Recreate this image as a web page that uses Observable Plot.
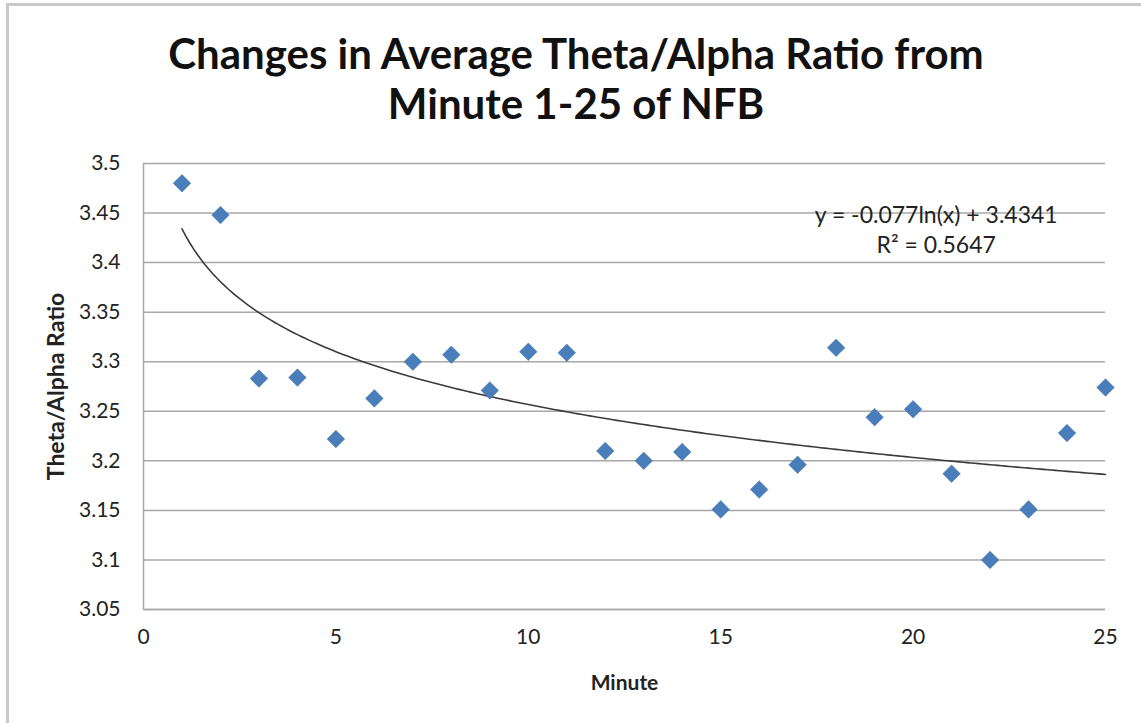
<!DOCTYPE html>
<html><head><meta charset="utf-8">
<script src="https://cdn.jsdelivr.net/npm/d3@7"></script>
<script src="https://cdn.jsdelivr.net/npm/@observablehq/plot@0.6"></script>
<style>
body{margin:0;background:#fff;}
#wrap{position:relative;width:1141px;height:723px;overflow:hidden;font-family:Lato,"Open Sans",sans-serif;background:#fff;}
#frame{position:absolute;left:6px;top:3px;width:1200px;height:800px;border-left:3px solid #c9c9c9;border-top:3px solid #c9c9c9;pointer-events:none;}
#title{position:absolute;left:0;top:28px;width:1152px;text-align:center;font-size:42px;font-weight:bold;line-height:50px;color:#111;}
#chart{position:absolute;left:0;top:140px;}
</style></head>
<body>
<div id="wrap">
  <div id="frame"></div>
  <div id="title">Changes in Average Theta/Alpha Ratio from<br>Minute 1-25 of NFB</div>
  <div id="chart"></div>
</div>
<script>
// Data
const minutes = [1,2,3,4,5,6,7,8,9,10,11,12,13,14,15,16,17,18,19,20,21,22,23,24,25];
const ratios  = [3.480,3.448,3.283,3.284,3.222,3.263,3.300,3.307,3.271,3.310,3.309,3.210,3.200,3.209,3.151,3.171,3.196,3.314,3.244,3.252,3.187,3.100,3.151,3.228,3.274];
const xTicks = [0,5,10,15,20,25];
const yTicks = [3.05,3.1,3.15,3.2,3.25,3.3,3.35,3.4,3.45,3.5];
const yTickLabels = ["3.05","3.1","3.15","3.2","3.25","3.3","3.35","3.4","3.45","3.5"];
// Trendline as printed on the chart: y = -0.077ln(x) + 3.4341, R² = 0.5647
const trendSlope = -0.077;
const trendIntercept = 3.4341;
const equationLines = ["y = -0.077ln(x) + 3.4341", "R² = 0.5647"];
const equationPos = {x: 20.6, y: 3.4345};

const points = minutes.map((m, i) => ({minute: m, ratio: ratios[i]}));
const trend = d3.range(1, 25.001, 0.1).map(x => ({minute: x, ratio: trendIntercept + trendSlope * Math.log(x)}));

const chart = Plot.plot({
  width: 1141,
  height: 583,
  marginLeft: 143,
  marginRight: 36,
  marginTop: 23,
  marginBottom: 114,
  style: {fontFamily: "Lato, 'Open Sans', sans-serif", background: "transparent", color: "#222"},
  x: {domain: [0, 25], ticks: xTicks},
  y: {domain: [3.05, 3.5], ticks: yTicks},
  marks: [
    Plot.gridY(yTicks, {stroke: "#a8a8a8", strokeOpacity: 1, strokeWidth: 1.5}),
    Plot.ruleX([0], {stroke: "#a8a8a8", strokeWidth: 1.5}),
    Plot.ruleY([3.05], {stroke: "#a8a8a8", strokeWidth: 1.5}),
    Plot.axisY(yTicks, {tickSize: 0, tickPadding: 23, fontSize: 21, fill: "#222",
      tickFormat: (d) => yTickLabels[yTicks.indexOf(d)],
      label: "Theta/Alpha Ratio", labelAnchor: "center", labelArrow: "none", labelOffset: 96}),
    Plot.axisX(xTicks, {tickSize: 0, tickPadding: 20, fontSize: 21, fill: "#222",
      label: "Minute", labelAnchor: "center", labelArrow: "none", labelOffset: 80}),
    Plot.line(trend, {x: "minute", y: "ratio", stroke: "#3a3a3a", strokeWidth: 1.6}),
    Plot.dot(points, {x: "minute", y: "ratio", symbol: "square", r: 7, rotate: 45, fill: "#4a7ebb", stroke: "#3f70aa", strokeWidth: 0.5}),
    Plot.text([equationLines.join("\n")], {x: () => equationPos.x, y: () => equationPos.y, textAnchor: "middle", lineAnchor: "middle", lineHeight: 1.3, fontSize: 23, fill: "#222"})
  ]
});
document.getElementById("chart").appendChild(chart);
// axis titles are bold in the reference
chart.querySelectorAll('[aria-label="y-axis label"] text').forEach(t => {
  t.setAttribute("font-weight", "bold"); t.setAttribute("font-size", "23");
});
chart.querySelectorAll('[aria-label="x-axis label"] text').forEach(t => {
  t.setAttribute("font-weight", "bold"); t.setAttribute("font-size", "21");
});
</script>
</body></html>
